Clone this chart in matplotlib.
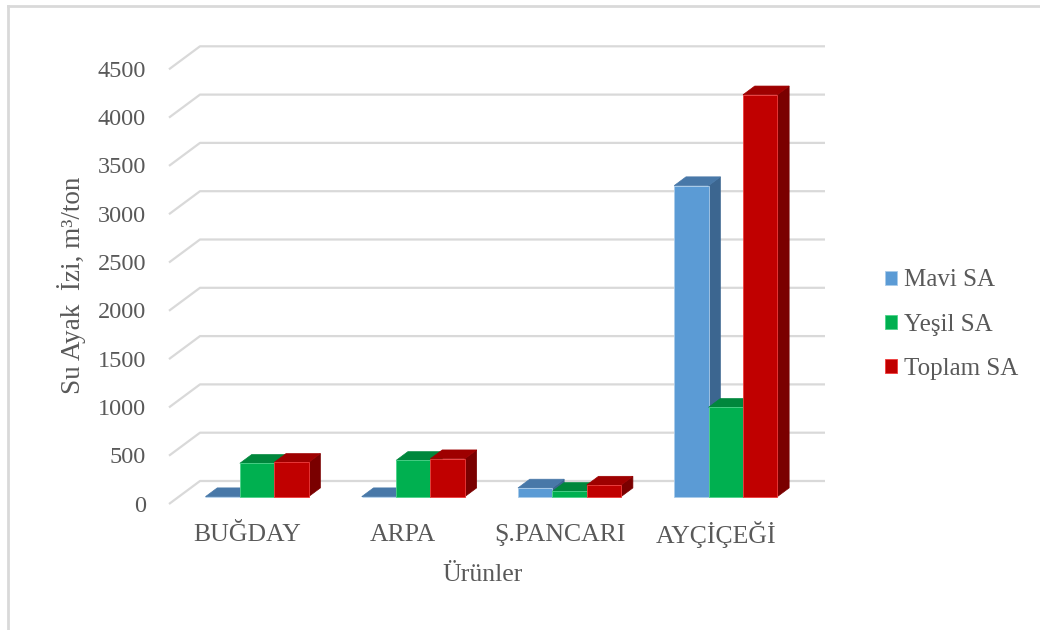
import matplotlib
matplotlib.use("Agg")
import matplotlib.pyplot as plt
from matplotlib.patches import Polygon, Patch
from matplotlib.lines import Line2D

plt.rcParams['font.family'] = ['Liberation Serif', 'DejaVu Serif']

# ---- data ----
categories = ["BUĞDAY", "ARPA", "Ş.PANCARI", "AYÇİÇEĞİ"]
series_names = ["Mavi SA", "Yeşil SA", "Toplam SA"]
mavi = [0, 0, 90, 3220]
yesil = [345, 375, 55, 925]
toplam = [355, 393, 120, 4160]
y_ticks = [0, 500, 1000, 1500, 2000, 2500, 3000, 3500, 4000, 4500]

values = [mavi, yesil, toplam]
front_cols = ["#5B9BD5", "#00B050", "#C00000"]
top_cols = ["#4878A8", "#00873C", "#9E0000"]
side_cols = ["#3C6690", "#007A36", "#7A0000"]
edge_cols = ["#A9CBEA", "#4CD38A", "#F03C3C"]
TXT = "#595959"
GRID = "#D9D9D9"

W, H = 1040, 630
fig = plt.figure(figsize=(W / 100, H / 100), dpi=100)
ax = fig.add_axes([0, 0, 1, 1])
ax.axis('off')

# pixel geometry of the oblique 3-D frame
PX_CAT = 156.25          # pixels per category
X0 = 169                 # left edge of the front plane
Y0 = 504                 # value 0 on the front plane
PX_VAL = 48.3 / 500      # pixels per value unit
ax.set_xlim(-0.5 - X0 / PX_CAT, -0.5 + (W - X0) / PX_CAT)
ax.set_ylim(-(H - Y0) / PX_VAL, Y0 / PX_VAL)

DX = 31 / PX_CAT         # depth offset (category units)
DY = 23 / PX_VAL         # depth offset (value units)


def px_x(p):
    return (p - X0) / PX_CAT - 0.5


def px_y(p):
    return (Y0 - p) / PX_VAL


# chart border (partly cut off on right/bottom)
fig.add_artist(Line2D([8 / W, 8 / W], [0, 1 - 6 / H], color=GRID, lw=2))
fig.add_artist(Line2D([8 / W, 1], [1 - 6 / H, 1 - 6 / H], color=GRID, lw=2))

# gridlines: slanted side-wall segment + back wall
xl, xr = -0.5, len(categories) - 0.5
for v in y_ticks:
    ax.plot([xl, xl + DX, xr + DX], [v, v + DY, v + DY],
            color=GRID, lw=1.6, solid_capstyle='butt', zorder=1)
    ax.text(px_x(146), v - 2 / PX_VAL, f"{v}", ha='right', va='center',
            fontsize=17.5, color=TXT)

# bars
BW = 0.22
D0, D1 = 0.32, 0.70
z = 5
for i in range(len(categories)):
    for j, vals in enumerate(values):
        h = vals[i]
        L = i - 1.5 * BW + j * BW
        R = L + BW
        ox0, oy0 = D0 * DX, D0 * DY
        ox1, oy1 = D1 * DX, D1 * DY
        side = [(R + ox0, oy0), (R + ox0, h + oy0), (R + ox1, h + oy1), (R + ox1, oy1)]
        top = [(L + ox0, h + oy0), (R + ox0, h + oy0), (R + ox1, h + oy1), (L + ox1, h + oy1)]
        ax.add_patch(Polygon(side, closed=True, fc=side_cols[j], ec=side_cols[j], lw=0.5, zorder=z))
        ax.add_patch(Polygon(top, closed=True, fc=top_cols[j], ec=top_cols[j], lw=0.5, zorder=z + 1))
        ax.bar(L + ox0, h, width=BW, bottom=oy0, align='edge', color=front_cols[j],
               edgecolor=edge_cols[j], linewidth=0.6, zorder=z + 2)
        z += 3

# category labels and axis titles
for i, c in enumerate(categories):
    ax.text(i, px_y(535), c, ha='center', va='center', fontsize=18.5, color=TXT)
ax.text(px_x(483), px_y(575), "Ürünler", ha='center', va='center', fontsize=18.5, color=TXT)
ax.text(px_x(72), px_y(285), "Su Ayak  İzi, m³/ton", ha='center', va='center',
        rotation=90, fontsize=19.5, color=TXT)

# legend
handles = [Patch(facecolor=front_cols[k], edgecolor=edge_cols[k], lw=0.6) for k in range(3)]
leg = fig.legend(handles, series_names, loc='upper left',
                 bbox_to_anchor=(872 / W, 1 - 257 / H), frameon=False,
                 fontsize=18, handlelength=0.5, handleheight=0.5,
                 handletextpad=0.3, labelspacing=0.88, borderpad=0)
for t in leg.get_texts():
    t.set_color(TXT)

fig.savefig("out.png", dpi=100)
